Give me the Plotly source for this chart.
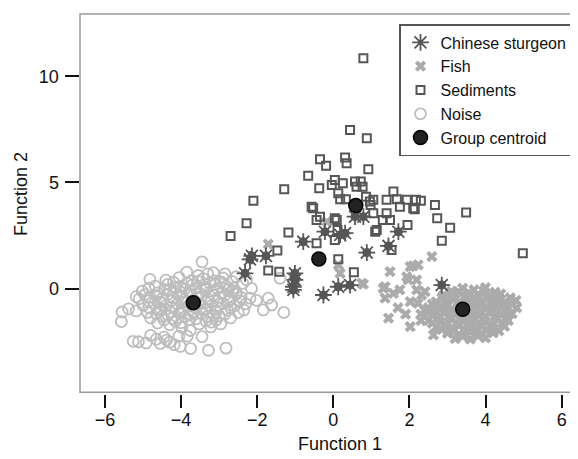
import plotly.graph_objects as go

# ---------------- data ----------------
noise_x = [-3.45, -4.82, -5.18, -5.55, -5.38, -5.57, -5.26, -5.12, -4.80, -4.65, -4.45, -4.30, -4.55, -4.38, -4.92,
           -4.18, -4.02, -3.75, -3.28, -2.82, -3.45, -3.98, -3.76, -3.84, -4.06, -3.08, -2.96, -3.22, -1.71, -1.62,
           -1.84, -1.30, -2.35, -2.55, -2.38, -2.28, -2.19, -2.15, -2.66, -2.62, -2.55, -1.40, -2.85, -3.15,
           -3.85, -3.55, -3.30,
           -4.40, -4.05, -3.72, -3.42, -3.12, -2.90,
           -4.68, -4.35, -4.02, -3.70, -3.40, -3.10, -2.82,
           -5.02, -4.62, -4.30, -4.00, -3.78, -3.50, -3.20, -2.92, -2.65,
           -5.10, -4.82, -4.52, -4.20, -3.92, -3.60, -3.30, -3.00, -2.72, -2.42, -2.02,
           -5.00, -4.70, -4.40, -4.10, -3.80, -3.50, -3.22, -2.90, -2.60, -2.30,
           -5.18, -4.88, -4.58, -4.28, -3.98, -3.68, -3.38, -3.08, -2.78, -2.50,
           -4.80, -4.50, -4.22, -3.90, -3.60, -3.30, -3.00, -2.70,
           -4.62, -4.30, -4.00, -3.52, -3.20,
           -4.20, -3.85, -3.55, -3.25, -2.95,
           -4.85, -4.45, -4.15, -3.90, -3.62, -3.35, -3.05, -2.75,
           -4.95, -4.65, -4.35, -4.05, -3.75, -3.45, -3.15, -2.85, -2.55,
           -4.85, -4.55, -4.25, -3.95, -3.65, -3.35, -3.05, -2.75, -2.45,
           -4.85, -4.55, -4.25, -3.95, -3.65, -3.35, -3.05, -2.70,
           -4.65, -4.35, -4.05, -3.75, -3.45, -3.15, -2.85,
           -4.45, -4.15, -3.80, -3.35]
noise_y = [1.26, 0.44, -0.38, -1.10, -0.95, -1.55, -2.48, -2.50, -2.20, -2.38, -2.28, -2.52, -2.58, -2.42, -2.56,
           -2.64, -2.72, -2.82, -2.90, -2.80, -2.26, -1.82, -1.97, -2.24, -2.24, -1.48, -1.66, -1.80, -0.45, -0.77,
           -1.00, -1.12, -1.00, 0.56, 0.25, 0.42, -0.45, 0.01, 0.33, 0.02, -0.20, 0.49, 0.70, 0.75,
           0.78, 0.62, 0.70,
           0.40, 0.52, 0.38, 0.47, 0.36, 0.50,
           0.12, 0.20, 0.10, 0.18, 0.08, 0.20, 0.12,
           -0.12, -0.20, -0.08, -0.18, -0.10, -0.22, -0.12, -0.20, -0.10,
           -0.48, -0.40, -0.50, -0.42, -0.52, -0.40, -0.48, -0.40, -0.50, -0.42, -0.55,
           -0.78, -0.70, -0.80, -0.72, -0.80, -0.72, -0.82, -0.70, -0.80, -0.72,
           -1.05, -1.12, -1.00, -1.10, -1.02, -1.12, -1.00, -1.10, -1.02, -1.12,
           -1.38, -1.30, -1.40, -1.32, -1.42, -1.30, -1.28, -1.38,
           -1.62, -1.70, -1.60, -1.66, -1.58,
           0.30, 0.26, 0.34, 0.27, 0.32,
           0.02, -0.03, 0.04, -0.02, 0.03, -0.04, 0.01, -0.02,
           -0.28, -0.33, -0.26, -0.32, -0.27, -0.34, -0.29, -0.31, -0.26,
           -0.58, -0.63, -0.56, -0.62, -0.57, -0.64, -0.59, -0.61, -0.57,
           -0.88, -0.93, -0.86, -0.92, -0.87, -0.94, -0.89, -0.91,
           -1.18, -1.23, -1.16, -1.22, -1.17, -1.24, -1.19,
           -1.48, -1.53, -1.47, -1.52]

fish_x = [2.59, 2.10, 2.23, 1.49, 0.75, 1.97, 1.31, 1.75, 1.58, 1.36, 2.19, 2.41, 2.32, 2.02, 2.23, 3.29, 1.45,
          2.02, 2.63, -1.71, -0.17, 0.18, 0.79, 1.36, 1.93, 2.02, 2.19, 0.13, 1.70, 1.90, 2.30, 2.50,
          3.40, 3.70, 4.00,
          2.90, 3.20, 3.50, 3.80, 4.10, 4.40,
          2.70, 3.00, 3.30, 3.60, 3.90, 4.20, 4.50, 4.80,
          2.50, 2.80, 3.10, 3.70, 4.00, 4.30, 4.60, 4.82,
          2.30, 2.60, 2.90, 3.20, 3.50, 3.80, 4.10, 4.40, 4.70,
          2.50, 2.80, 3.10, 3.40, 3.70, 4.00, 4.30, 4.60,
          2.70, 3.00, 3.30, 3.60, 3.90, 4.20, 4.50,
          3.00, 3.30, 3.60, 3.90, 4.20,
          3.20, 3.60, 4.00,
          3.10, 3.55, 3.95, 4.25,
          2.85, 3.15, 3.45, 3.75, 4.05, 4.35, 4.65,
          2.60, 2.95, 3.25, 3.55, 3.85, 4.15, 4.45, 4.70,
          2.40, 2.70, 3.00, 3.30, 3.60, 3.90, 4.20, 4.50,
          2.40, 2.75, 3.05, 3.35, 3.65, 3.95, 4.25, 4.55,
          2.60, 2.95, 3.25, 3.55, 3.85, 4.15, 4.45,
          2.85, 3.15, 3.45, 3.75, 4.05, 4.35,
          3.40, 3.80]
fish_y = [1.51, 1.07, 1.12, 0.80, 0.25, 0.41, 0.02, -0.06, -0.22, -0.45, -0.06, -0.14, -0.30, -0.61, -0.69, -0.14,
          -1.39, -1.79, -2.18, 2.10, 3.15, 0.72, 0.21, 0.09, 0.56, 1.04, 0.41, 1.12, -0.90, -1.20, -1.50, -1.00,
          0.02, -0.05, 0.05,
          -0.30, -0.25, -0.35, -0.28, -0.32, -0.25,
          -0.62, -0.55, -0.65, -0.58, -0.62, -0.55, -0.65, -0.55,
          -0.90, -0.85, -0.95, -0.88, -0.95, -0.85, -0.92, -0.90,
          -1.20, -1.25, -1.15, -1.22, -1.18, -1.25, -1.15, -1.22, -1.18,
          -1.50, -1.55, -1.45, -1.52, -1.48, -1.55, -1.45, -1.50,
          -1.80, -1.85, -1.75, -1.82, -1.78, -1.85, -1.78,
          -2.10, -2.15, -2.05, -2.12, -2.08,
          -2.35, -2.38, -2.32,
          -0.13, -0.18, -0.12, -0.17,
          -0.43, -0.48, -0.42, -0.47, -0.44, -0.49, -0.43,
          -0.73, -0.78, -0.72, -0.77, -0.74, -0.79, -0.73, -0.76,
          -1.03, -1.08, -1.02, -1.07, -1.04, -1.09, -1.03, -1.06,
          -1.33, -1.38, -1.32, -1.37, -1.34, -1.39, -1.33, -1.36,
          -1.63, -1.68, -1.62, -1.67, -1.64, -1.69, -1.63,
          -1.93, -1.98, -1.92, -1.97, -1.94, -1.99,
          -2.25, -2.22]

sediments_x = [0.79, 0.44, 0.88, -0.35, -0.19, 0.31, 0.35, 0.92, -0.66, -1.29, -0.37, 0.04, -0.04, 0.25, 0.57,
               0.72, 0.61, 0.77, 0.13, 0.18, 0.33, 0.86, 0.96, 1.05, 1.58, 1.40, 1.67, 1.75, 1.93, 2.17, -2.10,
               -0.57, -0.53, 0.98, 1.05, 1.40, 1.30, 1.49, 2.10, -2.28, -2.70, -0.44, 0.04, 0.09, -0.35, -1.18,
               0.11, 0.04, 1.14, 1.10, -0.44, 1.95, 1.53, -1.47, 0.13, -1.71, -1.42, 0.54, 2.14, 2.30, 2.67,
               2.73, 3.49, 3.07, 2.85, 4.98]
sediments_y = [10.85, 7.47, 7.08, 6.09, 5.78, 6.17, 5.90, 5.62, 5.31, 4.68, 4.73, 5.12, 4.88, 4.96, 5.04,
               5.04, 4.80, 4.80, 4.49, 4.21, 4.21, 4.33, 4.10, 4.18, 4.57, 4.18, 4.21, 3.86, 4.18, 4.18, 4.14,
               3.86, 3.79, 3.94, 3.55, 3.55, 3.23, 3.23, 3.79, 3.08, 2.48, 3.23, 3.31, 3.23, 3.39, 2.64,
               2.76, 2.29, 2.76, 2.68, 2.14, 3.00, 1.82, 1.79, 1.38, 0.85, 0.80, 0.77, 3.74, 4.14, 3.94,
               3.31, 3.58, 2.87, 2.26, 1.67]

sturgeon_x = [-2.14, -2.19, -1.77, -2.32, -1.01, -1.01, -1.05, -1.05, -0.79, -0.22, 0.31, 0.18, 0.57, 0.79,
              0.88, 1.45, 1.71, 0.13, 0.44, -0.26, 2.85]
sturgeon_y = [1.54, 1.38, 1.54, 0.72, 0.72, 0.41, 0.09, -0.06, 2.21, 2.68, 2.61, 2.53, 3.39, 3.39,
              1.70, 2.01, 2.68, 0.09, 0.17, -0.30, 0.17]

centroid_x = [-3.68, 3.40, -0.38, 0.59]
centroid_y = [-0.66, -0.97, 1.40, 3.91]

x_ticks = [-6, -4, -2, 0, 2, 4, 6]
y_ticks = [0, 5, 10]
x_title = "Function 1"
y_title = "Function 2"

# ---------------- styles ----------------
DARK = "#565656"
LIGHT_FISH = "#ababab"
LIGHT_NOISE = "#bdbdbd"
FONT = "Liberation Sans, Arial, Helvetica, sans-serif"

fig = go.Figure()
fig.add_trace(go.Scatter(
    x=noise_x, y=noise_y, mode="markers", name="Noise", legendrank=4,
    marker=dict(symbol="circle-open", size=11, color=LIGHT_NOISE, line=dict(width=1.8))))
fig.add_trace(go.Scatter(
    x=fish_x, y=fish_y, mode="markers", name="Fish", legendrank=2,
    marker=dict(symbol="x", size=10, color=LIGHT_FISH, line=dict(width=0))))
fig.add_trace(go.Scatter(
    x=sediments_x, y=sediments_y, mode="markers", name="Sediments", legendrank=3,
    marker=dict(symbol="square-open", size=8, color=DARK, line=dict(width=2))))
fig.add_trace(go.Scatter(
    x=sturgeon_x, y=sturgeon_y, mode="markers", showlegend=False, hoverinfo="skip",
    marker=dict(symbol="circle", size=9, color=DARK, line=dict(width=0))))
fig.add_trace(go.Scatter(
    x=sturgeon_x, y=sturgeon_y, mode="markers", name="Chinese sturgeon", legendrank=1,
    marker=dict(symbol="asterisk-open", size=14, color=DARK, line=dict(width=1.8, color=DARK))))
fig.add_trace(go.Scatter(
    x=centroid_x, y=centroid_y, mode="markers", name="Group centroid", legendrank=5,
    marker=dict(symbol="circle", size=14, color="#222222", line=dict(width=1.5, color="#000000"))))

# the page adds an 8 px body margin, so the figure is shrunk and shifted by it
OFF = 8
W, H = 578 - OFF, 459 - OFF
ML, MT, MB = 62 - OFF, 14 - OFF, 52
pw, ph = W - ML, H - MT - MB


def px_x(p):  # page pixel -> paper x
    return (p - OFF - ML) / pw


def px_y(p):  # page pixel -> paper y
    return (H - MB - (p - OFF)) / ph


xd0 = px_x(80)
yd0 = px_y(392.3)

fig.update_layout(
    width=W, height=H,
    margin=dict(l=ML, r=0, t=MT, b=MB, autoexpand=False),
    plot_bgcolor="white", paper_bgcolor="white",
    font=dict(family=FONT, size=18, color="#111111"),
    showlegend=True,
    xaxis=dict(domain=[xd0, 1], range=[-6.657, 6.43], anchor="free", position=px_y(393.5),
               tickvals=x_ticks, ticks="outside", ticklen=13, tickwidth=1.5, tickcolor="#111111",
               ticklabelstandoff=-3,
               showgrid=False, zeroline=False, showline=False),
    yaxis=dict(domain=[yd0, 1], range=[-4.88, 12.93], anchor="free", position=px_x(78.5),
               tickvals=y_ticks, ticks="outside", ticklen=14, tickwidth=1.5, tickcolor="#111111",
               ticklabelstandoff=2,
               showgrid=False, zeroline=False, showline=False),
    legend=dict(x=px_x(399), y=px_y(24), xanchor="left", yanchor="top",
                bordercolor="#555555", borderwidth=1.5, bgcolor="white",
                font=dict(family=FONT, size=16, color="#111111"), tracegroupgap=0),
    shapes=[dict(type="rect", xref="paper", yref="paper", x0=xd0, x1=1.02, y0=yd0, y1=1,
                 line=dict(color="#9a9a9a", width=1.5), layer="below")],
    annotations=[
        dict(text=x_title, xref="paper", yref="paper", x=px_x(340), y=px_y(444),
             xanchor="center", yanchor="middle", showarrow=False, font=dict(size=18)),
        dict(text=y_title, xref="paper", yref="paper", x=px_x(21), y=px_y(194),
             xanchor="center", yanchor="middle", textangle=-90, showarrow=False, font=dict(size=18)),
    ],
)

fig.write_html("out.html")
